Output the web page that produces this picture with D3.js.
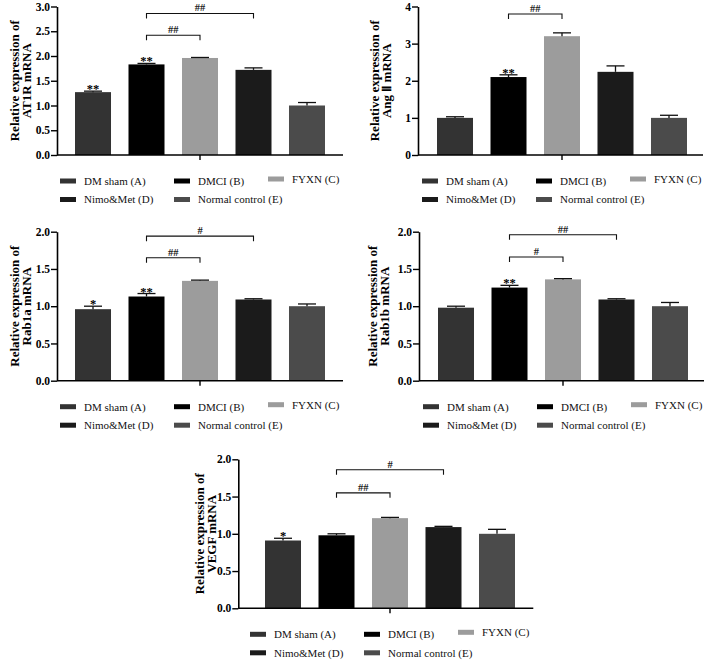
<!DOCTYPE html>
<html>
<head>
<meta charset="utf-8">
<script src="https://cdn.jsdelivr.net/npm/d3@7/dist/d3.min.js"></script>
<style>
  html, body { margin: 0; padding: 0; background: #fff; }
  svg { display: block; }
  text { font-family: "Liberation Serif", "Times New Roman", serif; }
</style>
</head>
<body>
<svg id="chart" width="708" height="660"></svg>
<script>
// ---------- data ----------
const groups = ["DM sham (A)", "DMCI (B)", "FYXN (C)", "Nimo&Met (D)", "Normal control (E)"];

const at1rMean = [1.27, 1.83, 1.96, 1.72, 1.00];
const at1rErr  = [0.02, 0.02, 0.01, 0.04, 0.06];
const at1rStars = ["**", "**", "", "", ""];
const at1rTicks = [0, 0.5, 1.0, 1.5, 2.0, 2.5, 3.0];
const at1rBrackets = [
  { from: "DMCI (B)", to: "Nimo&Met (D)", label: "##", level: 2.86 },
  { from: "DMCI (B)", to: "FYXN (C)", label: "##", level: 2.42 }
];

const angMean = [1.00, 2.10, 3.20, 2.24, 1.00];
const angErr  = [0.03, 0.06, 0.09, 0.16, 0.07];
const angStars = ["", "**", "", "", ""];
const angTicks = [0, 1, 2, 3, 4];
const angBrackets = [
  { from: "DMCI (B)", to: "FYXN (C)", label: "##", level: 3.80 }
];

const rab1aMean = [0.96, 1.13, 1.34, 1.09, 1.00];
const rab1aErr  = [0.04, 0.04, 0.01, 0.01, 0.03];
const rab1aStars = ["*", "**", "", "", ""];
const rab1aTicks = [0, 0.5, 1.0, 1.5, 2.0];
const rab1aBrackets = [
  { from: "DMCI (B)", to: "Nimo&Met (D)", label: "#", level: 1.94 },
  { from: "DMCI (B)", to: "FYXN (C)", label: "##", level: 1.65 }
];

const rab1bMean = [0.98, 1.25, 1.36, 1.09, 1.00];
const rab1bErr  = [0.02, 0.03, 0.01, 0.01, 0.05];
const rab1bStars = ["", "**", "", "", ""];
const rab1bTicks = [0, 0.5, 1.0, 1.5, 2.0];
const rab1bBrackets = [
  { from: "DMCI (B)", to: "Nimo&Met (D)", label: "##", level: 1.96 },
  { from: "DMCI (B)", to: "FYXN (C)", label: "#", level: 1.66 }
];

const vegfMean = [0.91, 0.98, 1.21, 1.09, 1.00];
const vegfErr  = [0.03, 0.02, 0.01, 0.01, 0.06];
const vegfStars = ["*", "", "", "", ""];
const vegfTicks = [0, 0.5, 1.0, 1.5, 2.0];
const vegfBrackets = [
  { from: "DMCI (B)", to: "Nimo&Met (D)", label: "#", level: 1.86 },
  { from: "DMCI (B)", to: "FYXN (C)", label: "##", level: 1.55 }
];

// ---------- style ----------
const barColors = ["#333333", "#000000", "#9c9c9c", "#1b1b1b", "#4b4b4b"];

const panels = [
  { label: ["Relative expression of", "AT1R mRNA"], mean: at1rMean, err: at1rErr, stars: at1rStars, ticks: at1rTicks, brackets: at1rBrackets, fmt: ".1f",
    ax: 57, y0: 155, yTop: 6.5, barStart: 75, axisW: 286, labX: 14 },
  { label: ["Relative expression of", "Ang \u2161 mRNA"], mean: angMean, err: angErr, stars: angStars, ticks: angTicks, brackets: angBrackets, fmt: "d",
    ax: 418, y0: 155, yTop: 6.5, barStart: 437, axisW: 285, labX: 374 },
  { label: ["Relative expression of", "Rab1a mRNA"], mean: rab1aMean, err: rab1aErr, stars: rab1aStars, ticks: rab1aTicks, brackets: rab1aBrackets, fmt: ".1f",
    ax: 57, y0: 380.7, yTop: 231.7, barStart: 75, axisW: 286, labX: 14 },
  { label: ["Relative expression of", "Rab1b mRNA"], mean: rab1bMean, err: rab1bErr, stars: rab1bStars, ticks: rab1bTicks, brackets: rab1bBrackets, fmt: ".1f",
    ax: 419, y0: 380.7, yTop: 231.7, barStart: 438, axisW: 285, labX: 372 },
  { label: ["Relative expression of", "VEGF mRNA"], mean: vegfMean, err: vegfErr, stars: vegfStars, ticks: vegfTicks, brackets: vegfBrackets, fmt: ".1f",
    ax: 238.3, y0: 608.3, yTop: 459.3, barStart: 265, axisW: 295, labX: 199 }
];

const svg = d3.select("#chart");

panels.forEach(p => {
  const g = svg.append("g");
  const ymax = p.ticks[p.ticks.length - 1];
  const y = d3.scaleLinear().domain([0, ymax]).range([p.y0, p.yTop]);
  const x = d3.scaleBand().domain(groups)
    .range([p.barStart, p.barStart + 250])
    .paddingInner(0.327).paddingOuter(0);
  const bw = x.bandwidth();

  // bars
  g.selectAll("rect.bar").data(groups).enter().append("rect")
    .attr("x", d => x(d))
    .attr("y", (d, i) => y(p.mean[i]))
    .attr("width", bw)
    .attr("height", (d, i) => p.y0 - y(p.mean[i]))
    .attr("fill", (d, i) => barColors[i]);

  // error bars (upper only)
  groups.forEach((d, i) => {
    const cx = x(d) + bw / 2;
    const top = y(p.mean[i] + p.err[i]);
    g.append("line").attr("x1", cx).attr("x2", cx)
      .attr("y1", y(p.mean[i])).attr("y2", top)
      .attr("stroke", "#111").attr("stroke-width", 1.3);
    g.append("line").attr("x1", cx - bw * 0.25).attr("x2", cx + bw * 0.25)
      .attr("y1", top).attr("y2", top)
      .attr("stroke", "#111").attr("stroke-width", 1.3);
    if (p.stars[i]) {
      g.append("text").attr("x", cx).attr("y", top + 2)
        .attr("text-anchor", "middle").attr("font-size", 12.5).attr("font-weight", "bold")
        .attr("fill", "#000")
        .text(p.stars[i]);
    }
  });

  // brackets
  p.brackets.forEach(b => {
    const x1 = x(b.from) + bw / 2, x2 = x(b.to) + bw / 2, by = y(b.level);
    g.append("path")
      .attr("d", `M${x1},${by + 5}V${by}H${x2}V${by + 5}`)
      .attr("fill", "none").attr("stroke", "#111").attr("stroke-width", 1.1);
    g.append("text").attr("x", (x1 + x2) / 2).attr("y", by - 2)
      .attr("text-anchor", "middle").attr("font-size", 10.5).attr("font-weight", "bold")
      .attr("fill", "#222")
      .text(b.label);
  });

  // y axis
  const yAxis = d3.axisLeft(y).tickValues(p.ticks)
    .tickFormat(d3.format(p.fmt)).tickSize(6).tickSizeOuter(0).tickPadding(1);
  const ya = g.append("g").attr("transform", `translate(${p.ax},0)`).call(yAxis);
  ya.select(".domain").attr("stroke-width", 1.6);
  ya.selectAll(".tick line").attr("stroke-width", 1.4);
  ya.selectAll(".tick text").attr("font-size", 11.5).attr("font-weight", "bold")
    .attr("font-family", "'Liberation Serif', 'Times New Roman', serif").attr("fill", "#000");

  // x axis: long baseline plus a single centre tick
  g.append("line").attr("x1", p.ax).attr("x2", p.ax + p.axisW)
    .attr("y1", p.y0).attr("y2", p.y0).attr("stroke", "#000").attr("stroke-width", 1.6);
  const xAxis = d3.axisBottom(x).tickValues([groups[2]]).tickFormat("").tickSize(5).tickSizeOuter(0);
  const xa = g.append("g").attr("transform", `translate(0,${p.y0})`).call(xAxis);
  xa.select(".domain").remove();
  xa.selectAll(".tick line").attr("stroke-width", 1.4);

  // y label
  const midY = (p.y0 + p.yTop) / 2;
  const lab = g.append("text")
    .attr("transform", `translate(${p.labX},${midY}) rotate(-90)`)
    .attr("text-anchor", "middle").attr("font-size", 13).attr("font-weight", "bold");
  lab.append("tspan").attr("x", 0).attr("dy", "0.35em").text(p.label[0]);
  lab.append("tspan").attr("x", 0).attr("dy", 12.5).text(p.label[1]);

  // legend
  const lx = p.barStart - 15;
  const colOff = [0, 114, 208];
  const rows = [p.y0 + 26, p.y0 + 44.5];
  groups.forEach((d, i) => {
    const r = i < 3 ? 0 : 1;
    const c = i < 3 ? i : i - 3;
    const ly = rows[r] - (i === 2 ? 2 : 0);
    g.append("rect").attr("x", lx + colOff[c]).attr("y", ly - 2.5)
      .attr("width", 16).attr("height", 5).attr("fill", barColors[i]);
    g.append("text").attr("x", lx + colOff[c] + 24).attr("y", ly)
      .attr("dy", "0.35em").attr("font-size", 11).attr("fill", "#111").text(d);
  });
});
</script>
</body>
</html>
